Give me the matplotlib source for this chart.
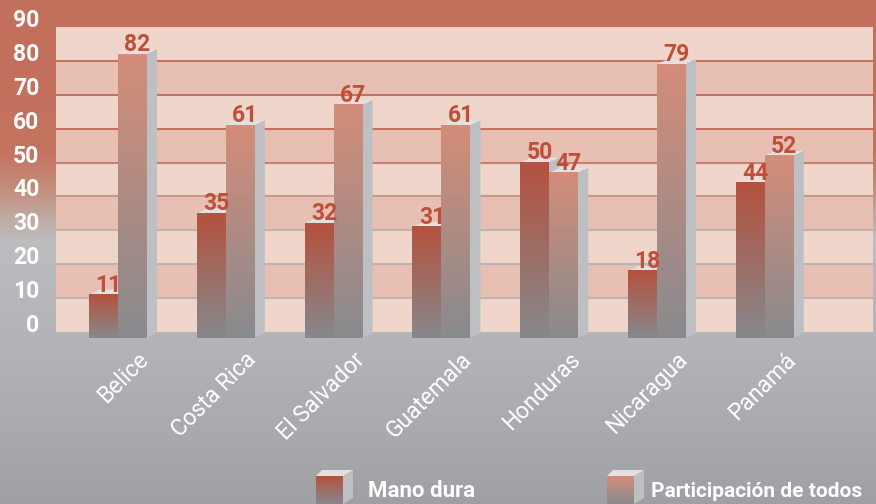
import numpy as np
import matplotlib
matplotlib.use('Agg')
from matplotlib import pyplot as plt
from matplotlib.colors import to_rgb
from matplotlib.patches import Polygon

plt.rcParams['font.family'] = ['Roboto', 'DejaVu Sans']

# DATA
countries = ['Belice', 'Costa Rica', 'El Salvador', 'Guatemala', 'Honduras', 'Nicaragua', 'Panamá']
mano_dura = [11, 35, 32, 31, 50, 18, 44]
participacion = [82, 61, 67, 61, 47, 79, 52]
series_names = ['Mano dura', 'Participación de todos']
y_ticks = list(range(0, 91, 10))

W, H = 876, 504


def vgrad(top, bottom, n=64):
    # vertical gradient column, row 0 = top
    t = np.linspace(0, 1, n)[:, None]
    c = (1 - t) * np.array(to_rgb(top)) + t * np.array(to_rgb(bottom))
    return c[:, None, :]


fig = plt.figure(figsize=(W / 100, H / 100), dpi=100)

# background gradient (pixel coords, y up)
bg = fig.add_axes([0, 0, 1, 1])
stops_y = [0, 150, 185, 215, 240, 340, 440, 504]
stops_c = ['#c26f5c', '#c4735f', '#c48a78', '#bfa89f', '#bdbdc0', '#b3b4b8', '#a8a9ad', '#9fa0a4']
ys = np.arange(H)
rgb = np.array([to_rgb(c) for c in stops_c])
grad = np.stack([np.interp(ys, stops_y, rgb[:, k]) for k in range(3)], axis=1)[:, None, :]
bg.imshow(grad, extent=(0, W, 0, H), aspect='auto', origin='upper', zorder=0)
bg.set_xlim(0, W)
bg.set_ylim(0, H)
bg.axis('off')

# main axes
base = -1.8
ax = fig.add_axes([56 / W, (H - 338) / H, 817 / W, 311 / H])
ax.patch.set_visible(False)
for s in ax.spines.values():
    s.set_visible(False)

light, dark = '#f0d5ca', '#e7bfb3'
for v in range(0, 90, 10):
    ax.axhspan(v, v + 10, color=light if (v // 10) % 2 == 0 else dark, lw=0, zorder=0)

grid_cols = {10: '#bfb3b1', 20: '#bfb3b1', 30: '#bfb3b1', 40: '#c49a8c', 50: '#c5806f',
             60: '#c6725f', 70: '#c6725f', 80: '#c6725f'}
for v, c in grid_cols.items():
    ax.axhline(v, color=c, lw=1.5, zorder=1)

w = 0.26
dx = 0.102
dy = 1.47
side_c = '#bebfc3'
top_c = '#e2e0e0'
bar_cols = [('#b4523e', '#87888c'), ('#d38d79', '#898a8e')]

z = 2.0


def draw_bar(x, h, cols):
    global z
    ax.add_patch(Polygon([(x + w, base), (x + w + dx, base + dy), (x + w + dx, h + dy), (x + w, h)],
                         closed=True, fc=side_c, ec='none', zorder=z))
    ax.add_patch(Polygon([(x, h), (x + dx, h + dy), (x + w + dx, h + dy), (x + w, h)],
                         closed=True, fc=top_c, ec='none', zorder=z + 0.001))
    ax.imshow(vgrad(*cols), extent=(x, x + w, base, h), aspect='auto', origin='upper',
              interpolation='bilinear', zorder=z + 0.002)
    z += 0.01


for i in range(len(countries)):
    x1 = i - 0.269
    x2 = i
    draw_bar(x1, mano_dura[i], bar_cols[0])
    draw_bar(x2, participacion[i], bar_cols[1])
    for x, h in ((x1, mano_dura[i]), (x2, participacion[i])):
        ax.text(x + (w + dx) / 2, h + 0.9, str(h), ha='center', va='baseline', fontsize=16.5,
                fontweight='bold', color='#bf4f3b', zorder=10)
    ax.text(i + 0.296, -8.55, countries[i], rotation=45, ha='right', va='baseline',
            rotation_mode='anchor', fontsize=16.5, color='white', clip_on=False)

ax.set_xlim(-0.575, 7.004)
ax.set_ylim(base, 90)
ax.set_xticks([])
ax.set_yticks(y_ticks)
ax.set_yticklabels([str(v) for v in y_ticks], fontsize=16.5, fontweight='bold', color='white')
for lab in ax.get_yticklabels():
    lab.set_va('baseline')
ax.tick_params(axis='y', length=0, pad=12)

# legend (pixel coords on background axes)
leg_x = [316, 607]
for k, name in enumerate(series_names):
    x0 = leg_x[k]
    fw, sd, top = 27, 10, 28
    bg.add_patch(Polygon([(x0 + fw, 0), (x0 + fw + sd, 6), (x0 + fw + sd, top + 6), (x0 + fw, top)],
                         closed=True, fc=side_c, ec='none', zorder=2))
    bg.add_patch(Polygon([(x0, top), (x0 + 6, top + 6), (x0 + fw + sd, top + 6), (x0 + fw, top)],
                         closed=True, fc=top_c, ec='none', zorder=2))
    bg.imshow(vgrad(*bar_cols[k]), extent=(x0, x0 + fw, 0, top), aspect='auto', origin='upper',
              interpolation='bilinear', zorder=3)
bg.text(368, 7, series_names[0], ha='left', va='baseline', fontsize=16, fontweight='bold', color='white')
bg.text(862, 7, series_names[1], ha='right', va='baseline', fontsize=15, fontweight='bold', color='white')
bg.set_xlim(0, W)
bg.set_ylim(0, H)

plt.savefig('out.png', dpi=100)
plt.close()
